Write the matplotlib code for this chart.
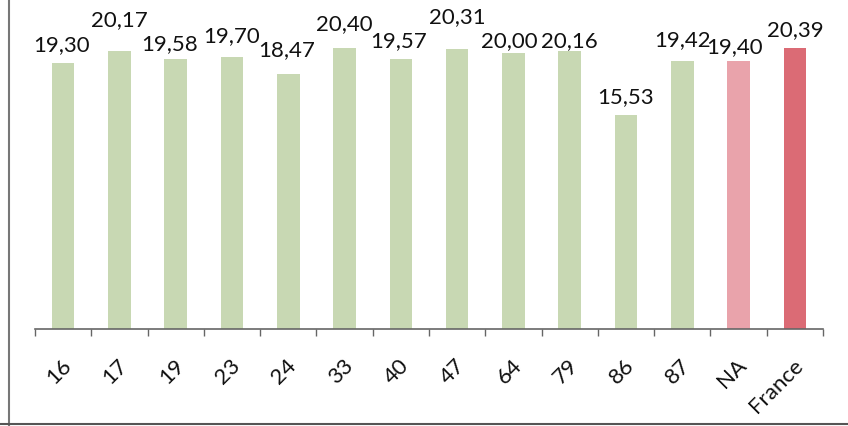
import matplotlib
matplotlib.use("Agg")
import matplotlib.pyplot as plt
from matplotlib.lines import Line2D

categories = ["16", "17", "19", "23", "24", "33", "40", "47", "64", "79", "86", "87", "NA", "France"]
values = [19.30, 20.17, 19.58, 19.70, 18.47, 20.40, 19.57, 20.31, 20.00, 20.16, 15.53, 19.42, 19.40, 20.39]
labels = ["19,30", "20,17", "19,58", "19,70", "18,47", "20,40", "19,57", "20,31", "20,00", "20,16", "15,53", "19,42", "19,40", "20,39"]

# label placement (pixels above bar top, pixels horizontal shift) as in the reference
label_dy = [18, 31, 15, 21, 24, 24, 18, 32, 12, 10, 18, 21, 14, 18]
label_dx = [-2, 0, -6, 0, -2, 0, -2, 0, -4, 0, 0, 0, -4, 0]

green = "#c8d8b3"
colors = [green] * 12 + ["#e9a3ab", "#db6b75"]

plt.rcParams['font.family'] = ['Lato', 'DejaVu Sans']

W, H = 848, 426
fig = plt.figure(figsize=(W / 100, H / 100), dpi=100)
left, right, base, top = 35, 823, 329, 10
ax = fig.add_axes([left / W, 1 - base / H, (right - left) / W, (base - top) / H])

x = list(range(len(categories)))
bars = ax.bar(x, values, width=0.40, color=colors, zorder=2)
ax.set_xlim(-0.5, len(categories) - 0.5)
ax.set_ylim(0, (base - top) / 13.79)

for b, lab, dy, dx in zip(bars, labels, label_dy, label_dx):
    ax.annotate(lab, (b.get_x() + b.get_width() / 2, b.get_height()),
                xytext=(dx * 0.72, dy * 0.72), textcoords="offset points",
                ha="center", va="center", fontsize=16, color="#111111")

for s in ["left", "right", "top"]:
    ax.spines[s].set_visible(False)
ax.spines["bottom"].set_color("#666666")
ax.spines["bottom"].set_linewidth(1.2)
ax.set_yticks([])

ax.set_xticks(x)
ax.set_xticklabels(categories, rotation=45, ha="right", rotation_mode="anchor",
                   fontsize=16, color="#111111")
ax.tick_params(axis="x", which="major", length=0, pad=19)
ax.set_xticks([i - 0.5 for i in range(len(categories) + 1)], minor=True)
ax.tick_params(axis="x", which="minor", length=5, width=1, color="#666666", direction="out")
for t in ax.get_xticklabels():
    t.set_transform(t.get_transform() + matplotlib.transforms.ScaledTranslation(-2 / 100, 0, fig.dpi_scale_trans))

# frame remnants (left and bottom)
fig.add_artist(Line2D([9 / W, 9 / W], [0, 1], color="#777777", lw=1.5, transform=fig.transFigure))
fig.add_artist(Line2D([0, 1], [2 / H, 2 / H], color="#555555", lw=1.5, transform=fig.transFigure))

fig.savefig("out.png", dpi=100)
